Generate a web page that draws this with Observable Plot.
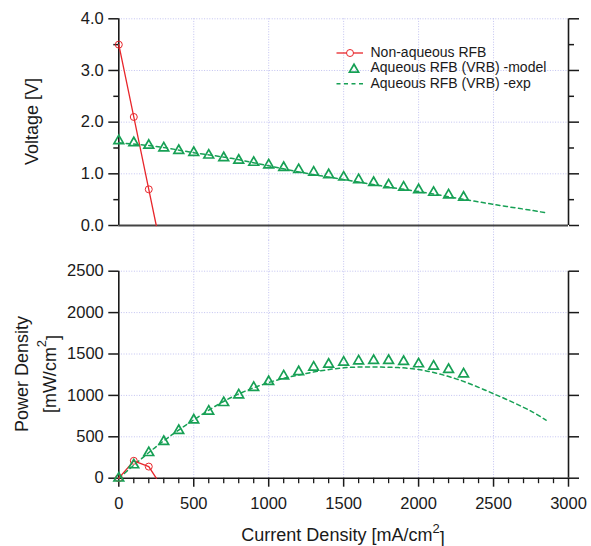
<!DOCTYPE html>
<html><head><meta charset="utf-8">
<script src="https://cdn.jsdelivr.net/npm/d3@7"></script>
<script src="https://cdn.jsdelivr.net/npm/@observablehq/plot@0.6"></script>
<style>
body{margin:0;background:#fff}
#chart{width:591px;height:546px;overflow:hidden}
svg{display:block}
</style>
</head><body><div id="chart"></div>
<script>
// ---- data ----
const nonAqCurrent = [0, 100, 200, 250];
const nonAqVoltage = [3.5, 2.1, 0.7, 0];
const nonAqPower   = [0, 210, 140, 0];
const nonAqMarked  = [true, true, true, false];

const modelCurrent = [0,100,200,300,400,500,600,700,800,900,1000,1100,1200,1300,1400,1500,1600,1700,1800,1900,2000,2100,2200,2300];
const modelVoltage = [1.64,1.60,1.55,1.50,1.45,1.41,1.36,1.31,1.26,1.22,1.17,1.12,1.08,1.03,0.98,0.935,0.885,0.83,0.785,0.74,0.69,0.64,0.59,0.545];
const modelPower   = [0,160,308,442,575,702,808,912,1005,1095,1166,1234,1285,1340,1375,1400,1415,1420,1420,1408,1380,1352,1312,1258];

const expCurrent = [0,250,500,750,1000,1250,1500,1750,2000,2250,2500,2750,2850];
const expVoltage = [1.60,1.53,1.41,1.30,1.155,1.01,0.89,0.767,0.656,0.533,0.408,0.295,0.245];
const expPower   = [0,382,705,975,1155,1265,1333,1342,1313,1200,1020,810,700];

const seriesNames = ["Non-aqueous RFB", "Aqueous RFB (VRB) -model", "Aqueous RFB (VRB) -exp"];

const xTicks = [0,500,1000,1500,2000,2500,3000];
const xMinorTicks = [100,200,300,400,600,700,800,900,1100,1200,1300,1400,1600,1700,1800,1900,2100,2200,2300,2400,2600,2700,2800,2900];
const vTicks = [0,1,2,3,4];
const vMinorTicks = [0.5,1.5,2.5,3.5];
const pTicks = [0,500,1000,1500,2000,2500];

// ---- tables ----
const nonAq = nonAqCurrent.map((c,i)=>({c, v:nonAqVoltage[i], p:nonAqPower[i], m:nonAqMarked[i]}));
const model = modelCurrent.map((c,i)=>({c, v:modelVoltage[i], p:modelPower[i]}));
const expt  = expCurrent.map((c,i)=>({c, v:expVoltage[i], p:expPower[i]}));

const RED = "#e8262b", GREEN = "#17a055", GRID = "#c2c2f0", AX = "#1a1a1a";
const FONT = "Arial, 'Liberation Sans', Helvetica, sans-serif";
const W = 591, ML = 118.3, MR = 23;
const gridOpts = {stroke: GRID, strokeOpacity: 1, strokeDasharray: "1,1.6", strokeWidth: 1};

const topChart = Plot.plot({
  width: W, height: 240,
  marginLeft: ML, marginRight: MR, marginTop: 18.3, marginBottom: 15,
  style: {fontFamily: FONT, fontSize: "16.5px", color: AX, background: "white", overflow: "visible"},
  x: {domain: [0, 3000]},
  y: {domain: [0, 4]},
  marks: [
    Plot.gridY(vTicks.filter(d => d > 0), gridOpts),
    Plot.ruleX(xTicks.filter(d => d > 0 && d < 3000), {...gridOpts, y1: 4, y2: -0.3}),
    Plot.axisX({ticks: [], label: null, tickSize: 0}),
    Plot.axisY({anchor: "left", ticks: vTicks, tickSize: 10, tickPadding: 5, tickFormat: d3.format(".1f"), label: null, strokeWidth: 1.5}),
    Plot.axisY({anchor: "left", ticks: vMinorTicks, tickSize: 5, text: null, label: null, strokeWidth: 1.5}),
    Plot.axisY({anchor: "right", ticks: vTicks, tickSize: 10, text: null, label: null, strokeWidth: 1.5}),
    Plot.axisY({anchor: "right", ticks: vMinorTicks, tickSize: 5, text: null, label: null, strokeWidth: 1.5}),
    Plot.ruleX([0, 3000], {stroke: AX, strokeWidth: 1.6}),
    Plot.ruleY([0], {stroke: "#444", strokeWidth: 2.2}),
    Plot.line(expt, {x: "c", y: "v", stroke: GREEN, strokeWidth: 1.5, strokeDasharray: "4,3.5", curve: "catmull-rom"}),
    Plot.line(nonAq, {x: "c", y: "v", stroke: RED, strokeWidth: 1.3}),
    Plot.dot(nonAq.filter(d => d.m), {x: "c", y: "v", r: 3.5, stroke: RED, strokeWidth: 1, fill: "none"}),
    Plot.dot(model, {x: "c", y: "v", symbol: "triangle", r: 3.6, stroke: GREEN, strokeWidth: 1.7, fill: "none"})
  ]
});

const bottomChart = Plot.plot({
  width: W, height: 306,
  marginLeft: ML, marginRight: MR, marginTop: 30.7, marginBottom: 68.3,
  style: {fontFamily: FONT, fontSize: "16.5px", color: AX, background: "white", overflow: "visible"},
  x: {domain: [0, 3000]},
  y: {domain: [0, 2500]},
  marks: [
    Plot.gridY(pTicks.filter(d => d > 0), gridOpts),
    Plot.ruleX(xTicks.filter(d => d > 0 && d < 3000), {...gridOpts, y1: 0, y2: 2875}),
    Plot.axisX({ticks: xTicks, tickSize: 9, tickPadding: 10.5, label: null, tickFormat: d3.format("d"), strokeWidth: 1.5}),
    Plot.axisX({ticks: xMinorTicks, tickSize: 5.5, text: null, label: null, strokeWidth: 1.3}),
    Plot.axisY({anchor: "left", ticks: pTicks, tickSize: 10, tickPadding: 5, label: null, tickFormat: d3.format("d"), strokeWidth: 1.5}),
    Plot.axisY({anchor: "right", ticks: pTicks, tickSize: 10, text: null, label: null, strokeWidth: 1.5}),
    Plot.ruleX([0, 3000], {stroke: AX, strokeWidth: 1.6}),
    Plot.ruleY([0], {stroke: AX, strokeWidth: 1.6}),
    Plot.line(expt, {x: "c", y: "p", stroke: GREEN, strokeWidth: 1.5, strokeDasharray: "4,3.5", curve: "catmull-rom"}),
    Plot.line(nonAq, {x: "c", y: "p", stroke: RED, strokeWidth: 1.3}),
    Plot.dot(nonAq.filter(d => d.m), {x: "c", y: "p", r: 3.5, stroke: RED, strokeWidth: 1, fill: "none"}),
    Plot.dot(model, {x: "c", y: "p", symbol: "triangle", r: 3.6, stroke: GREEN, strokeWidth: 1.7, fill: "none"})
  ]
});

const root = document.getElementById("chart");
root.append(topChart, bottomChart);

// ---- titles ----
const ts = d3.select(topChart);
ts.append("text").attr("transform", "translate(33,121.5) rotate(-90)")
  .attr("text-anchor", "middle").attr("dominant-baseline", "middle")
  .attr("font-size", 18).attr("font-family", FONT).attr("fill", AX).text("Voltage [V]");

const bs = d3.select(bottomChart);
bs.append("text").attr("transform", "translate(23,134) rotate(-90)")
  .attr("text-anchor", "middle").attr("dominant-baseline", "middle")
  .attr("font-size", 18).attr("font-family", FONT).attr("fill", AX).text("Power Density");
const t2 = bs.append("text").attr("transform", "translate(51,134) rotate(-90)")
  .attr("text-anchor", "middle").attr("dominant-baseline", "middle")
  .attr("font-size", 18).attr("font-family", FONT).attr("fill", AX);
t2.append("tspan").text("[mW/cm");
t2.append("tspan").attr("dy", "-0.6em").attr("font-size", 13).text("2");
t2.append("tspan").attr("dy", "0.6em").text("]");

const t3 = bs.append("text").attr("x", 343).attr("y", 300.5)
  .attr("text-anchor", "middle").attr("font-size", 18).attr("font-family", FONT).attr("fill", AX);
t3.append("tspan").text("Current Density [mA/cm");
t3.append("tspan").attr("dy", "-0.6em").attr("font-size", 13).text("2");
t3.append("tspan").attr("dy", "0.6em").text("]");

// ---- legend ----
const lg = ts.append("g").attr("font-family", FONT).attr("font-size", 14).attr("fill", AX).attr("text-anchor", "start");
const rowsY = [53, 68.7, 83.8];
lg.append("line").attr("x1", 336.5).attr("x2", 363).attr("y1", rowsY[0]).attr("y2", rowsY[0]).attr("stroke", RED).attr("stroke-width", 1.3);
lg.append("circle").attr("cx", 350).attr("cy", rowsY[0]).attr("r", 3.5).attr("stroke", RED).attr("fill", "white");
lg.append("path").attr("d", d3.symbol(d3.symbolTriangle, 36)()).attr("transform", `translate(354,${rowsY[1] + 0.8})`)
  .attr("stroke", GREEN).attr("stroke-width", 1.7).attr("fill", "none");
lg.append("line").attr("x1", 336.5).attr("x2", 363).attr("y1", rowsY[2]).attr("y2", rowsY[2]).attr("stroke", GREEN).attr("stroke-width", 1.5).attr("stroke-dasharray", "4,3.5");
seriesNames.forEach((n, i) => {
  lg.append("text").attr("x", 370.5).attr("y", rowsY[i]).attr("dominant-baseline", "middle").attr("text-anchor", "start").text(n);
});
</script>
</body></html>
